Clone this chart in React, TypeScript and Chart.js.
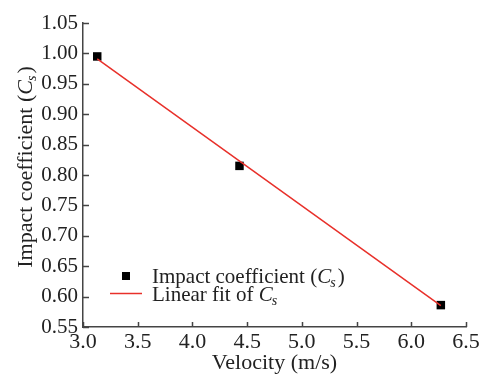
import React, { useEffect, useRef } from "react";
import { Chart, registerables } from "chart.js";

Chart.register(...registerables);

const velocity = [3.13, 4.43, 6.27];
const impactCoeff = [0.995, 0.815, 0.586];
const fitX = [3.13, 6.27];
const fitY = [0.991, 0.585];
const xTicks = [3.0, 3.5, 4.0, 4.5, 5.0, 5.5, 6.0, 6.5];
const yTicks = [0.55, 0.6, 0.65, 0.7, 0.75, 0.8, 0.85, 0.9, 0.95, 1.0, 1.05];

const FONT = "'Liberation Serif', 'Times New Roman', serif";
const TEXT = "#222";
const AXIS = "#444";
const RED = "#e8302a";

function drawCs(ctx: CanvasRenderingContext2D, prefix: string, suffix: string, x: number, y: number, align: "left" | "center", size: number) {
  const normal = `${size}px ${FONT}`;
  const ital = `italic ${size}px ${FONT}`;
  const sub = `italic ${Math.round(size * 0.65)}px ${FONT}`;
  ctx.font = normal;
  const w1 = ctx.measureText(prefix).width;
  ctx.font = ital;
  const w2 = ctx.measureText("C").width;
  ctx.font = sub;
  const w3 = ctx.measureText("s").width;
  ctx.font = normal;
  const w4 = ctx.measureText(suffix).width;
  const total = w1 + w2 + w3 + w4 + 1;
  let sx = align === "center" ? x - total / 2 : x;
  ctx.textBaseline = "alphabetic";
  ctx.textAlign = "left";
  ctx.fillStyle = TEXT;
  ctx.font = normal;
  ctx.fillText(prefix, sx, y);
  sx += w1;
  ctx.font = ital;
  ctx.fillText("C", sx, y);
  sx += w2;
  ctx.font = sub;
  ctx.fillText("s", sx - 1, y + 4);
  sx += w3 + 1;
  ctx.font = normal;
  ctx.fillText(suffix, sx, y);
}

const decorPlugin = {
  id: "decor",
  afterDraw(chart: any) {
    const ctx: CanvasRenderingContext2D = chart.ctx;
    const xs = chart.scales.x;
    const ys = chart.scales.y;
    const area = chart.chartArea;
    ctx.save();
    // inward ticks
    ctx.strokeStyle = AXIS;
    ctx.lineWidth = 1.5;
    ctx.beginPath();
    xTicks.forEach((v) => {
      const px = Math.round(xs.getPixelForValue(v)) + 0.5;
      ctx.moveTo(px, area.bottom);
      ctx.lineTo(px, area.bottom - 5);
    });
    yTicks.forEach((v) => {
      const py = Math.round(ys.getPixelForValue(v)) + 0.5;
      ctx.moveTo(area.left, py);
      ctx.lineTo(area.left + 6, py);
    });
    ctx.stroke();

    // y-axis title
    ctx.save();
    ctx.translate(32, 167);
    ctx.rotate(-Math.PI / 2);
    drawCs(ctx, "Impact coefficient (", ")", 0, 0, "center", 22);
    ctx.restore();

    // legend
    ctx.fillStyle = "#000";
    ctx.fillRect(122, 272, 8, 8);
    drawCs(ctx, "Impact coefficient (", ")", 152, 283, "left", 21);
    ctx.strokeStyle = RED;
    ctx.lineWidth = 1.5;
    ctx.beginPath();
    ctx.moveTo(110, 293.5);
    ctx.lineTo(142, 293.5);
    ctx.stroke();
    drawCs(ctx, "Linear fit of ", "", 152, 301, "left", 21);
    ctx.restore();
  },
};

export default function App() {
  const ref = useRef<HTMLCanvasElement>(null);
  useEffect(() => {
    document.body.style.margin = "0";
    const canvas = ref.current!;
    const chart = new Chart(canvas, {
      type: "scatter",
      data: {
        datasets: [
          {
            label: "Linear fit",
            data: fitX.map((x, i) => ({ x, y: fitY[i] })),
            showLine: true,
            borderColor: RED,
            borderWidth: 1.5,
            pointRadius: 0,
            fill: false,
          },
          {
            label: "Impact coefficient",
            data: velocity.map((x, i) => ({ x, y: impactCoeff[i] })),
            pointStyle: "rect",
            pointRadius: 6,
            backgroundColor: "#000",
            borderColor: "#000",
            borderWidth: 0,
          },
        ],
      },
      options: {
        animation: false,
        responsive: false,
        devicePixelRatio: 1,
        layout: { padding: { top: 23, right: 16, left: 0, bottom: 0 } },
        plugins: { legend: { display: false }, tooltip: { enabled: false } },
        scales: {
          x: {
            type: "linear",
            min: 3,
            max: 6.5,
            afterFit: (s: any) => {
              s.height = 49;
            },
            afterBuildTicks: (s: any) => {
              s.ticks = xTicks.map((v) => ({ value: v }));
            },
            ticks: {
              callback: (v: any) => Number(v).toFixed(1),
              font: { family: FONT, size: 22 },
              color: TEXT,
              padding: 2,
              maxRotation: 0,
              autoSkip: false,
            },
            grid: { display: false, drawTicks: false },
            border: { display: true, color: AXIS, width: 1.5 },
            title: {
              display: true,
              text: "Velocity (m/s)",
              font: { family: FONT, size: 22 },
              color: TEXT,
              padding: { top: 0, bottom: 0 },
            },
          },
          y: {
            type: "linear",
            min: 0.55,
            max: 1.05,
            afterFit: (s: any) => {
              s.width = 83;
            },
            afterBuildTicks: (s: any) => {
              s.ticks = yTicks.map((v) => ({ value: v }));
            },
            ticks: {
              callback: (v: any) => Number(v).toFixed(2),
              font: { family: FONT, size: 21 },
              color: TEXT,
              padding: 5,
              autoSkip: false,
            },
            grid: { display: false, drawTicks: false },
            border: { display: true, color: AXIS, width: 1.5 },
          },
        },
      },
      plugins: [decorPlugin],
    } as any);
    return () => chart.destroy();
  }, []);
  return <canvas ref={ref} width={482} height={376} style={{ display: "block" }} />;
}
